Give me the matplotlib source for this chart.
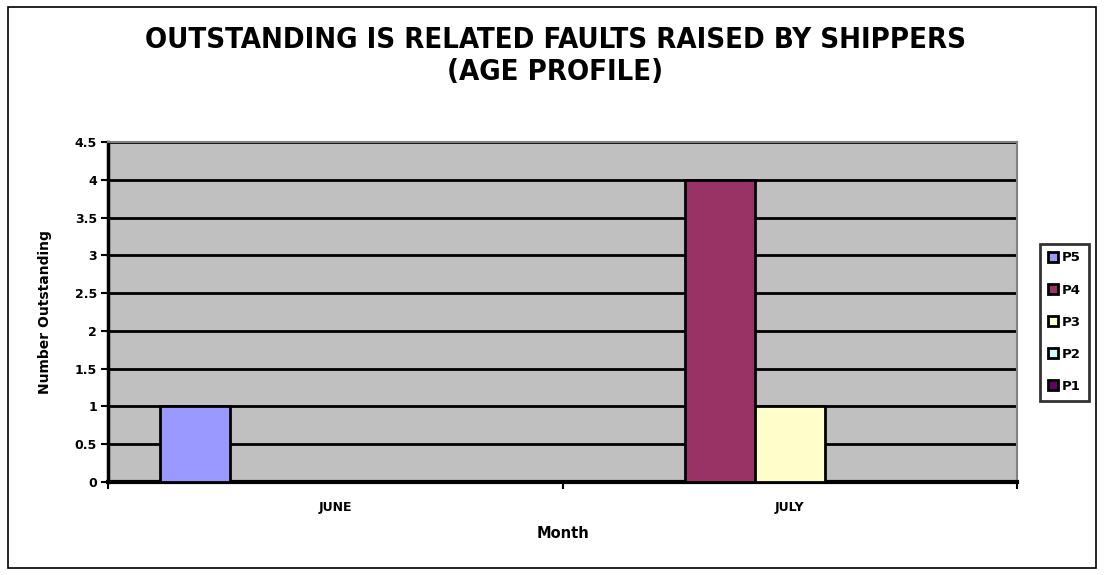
import numpy as np
import matplotlib
matplotlib.use('Agg')
import matplotlib.pyplot as plt
from matplotlib.patches import Rectangle

# data
months = ['JUNE', 'JULY']
series = ['P5', 'P4', 'P3', 'P2', 'P1']
values = {
    'P5': [1, 0],
    'P4': [0, 4],
    'P3': [0, 1],
    'P2': [0, 0],
    'P1': [0, 0],
}
colors = ['#9999FF', '#993366', '#FFFFCC', '#CCFFFF', '#660066']
yticks = [0, 0.5, 1, 1.5, 2, 2.5, 3, 3.5, 4, 4.5]
ytick_labels = ['0', '0.5', '1', '1.5', '2', '2.5', '3', '3.5', '4', '4.5']

plt.rcParams['font.family'] = ['DejaVu Sans']
plt.rcParams['font.weight'] = 'bold'

fig = plt.figure(figsize=(11.04, 5.75), dpi=100)
fig.patches.append(Rectangle((8 / 1104, 7 / 575), 1088 / 1104, 561 / 575,
                             transform=fig.transFigure, fill=False,
                             edgecolor='black', linewidth=1.2))

ax = fig.add_axes([108 / 1104, 1 - 482 / 575, 909 / 1104, 340 / 575])
ax.set_facecolor('#C0C0C0')

x = np.arange(len(months))
n = len(series)
width = 1 / (n + 1.5)
for i, (name, col) in enumerate(zip(series, colors)):
    offs = (i - (n - 1) / 2) * width
    ax.bar(x + offs, values[name], width, color=col, edgecolor='black',
           linewidth=2, label=name, zorder=3)

ax.set_xlim(-0.5, 1.5)
ax.set_ylim(0, 4.5)
ax.set_yticks(yticks)
ax.set_yticklabels(ytick_labels, fontsize=9, fontweight='bold')
ax.yaxis.grid(True, color='black', linewidth=2, zorder=1)
ax.set_axisbelow(True)

ax.set_xticks(x)
ax.set_xticklabels(months, fontsize=9, fontweight='bold')
ax.tick_params(axis='x', which='major', length=0, pad=14)
ax.set_xticks([-0.5, 0.5, 1.5], minor=True)
ax.tick_params(axis='x', which='minor', length=5, width=1.5, direction='out')
ax.tick_params(axis='y', length=5, width=1.5, direction='out', pad=3)

for side in ['top', 'right']:
    ax.spines[side].set_color('#808080')
    ax.spines[side].set_linewidth(1.5)
ax.spines['left'].set_linewidth(2.5)
ax.spines['bottom'].set_linewidth(3)

ax.set_xlabel('Month', fontsize=10.5, fontweight='bold', labelpad=8)
ax.set_ylabel('Number Outstanding', fontsize=10, fontweight='bold', labelpad=16)

fig.text(0.503, 1 - 40 / 575, 'OUTSTANDING IS RELATED FAULTS RAISED BY SHIPPERS',
         ha='center', va='center', fontsize=21, fontweight='bold', stretch='condensed')
fig.text(0.503, 1 - 72 / 575, '(AGE PROFILE)',
         ha='center', va='center', fontsize=21, fontweight='bold', stretch='condensed')

leg = ax.legend(loc='center left', bbox_to_anchor=(1.025, 0.47), fontsize=9.5,
                frameon=True, fancybox=False, edgecolor='black',
                handlelength=0.8, handleheight=0.8, handletextpad=0.3,
                borderpad=0.6, labelspacing=1.45, borderaxespad=0)
leg.get_frame().set_linewidth(2)
for t in leg.get_texts():
    t.set_fontweight('bold')

fig.savefig('out.png', dpi=100)
